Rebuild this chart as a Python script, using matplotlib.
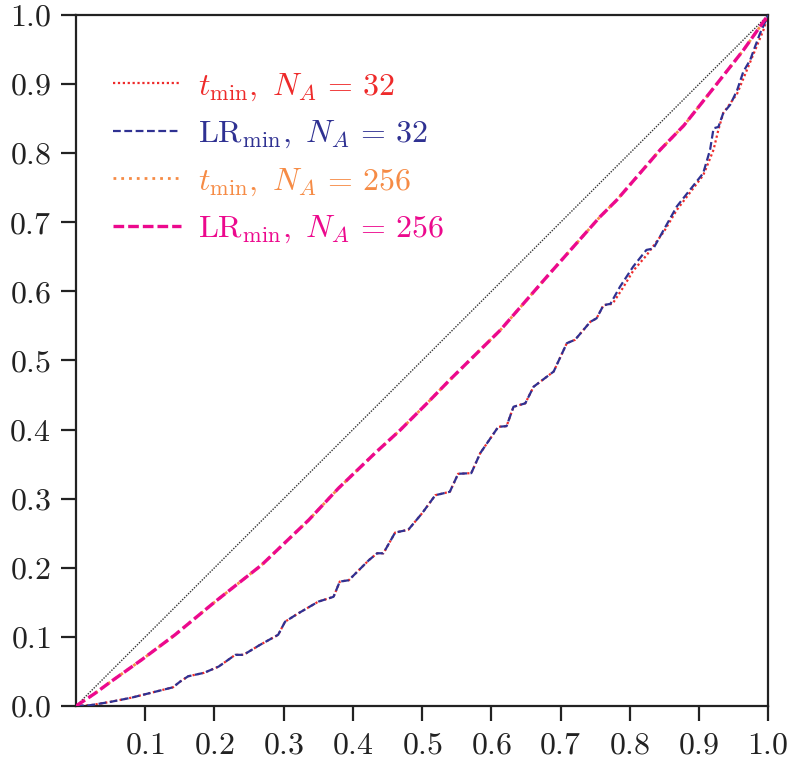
import matplotlib
matplotlib.use("Agg")
import matplotlib.pyplot as plt
from matplotlib.ticker import FuncFormatter, FixedLocator

plt.rcParams['mathtext.fontset'] = 'cm'
plt.rcParams['font.family'] = ['serif']
plt.rcParams['font.serif'] = ['cmr10', 'DejaVu Serif']
plt.rcParams['axes.unicode_minus'] = False

# ---- data ----
x_lr32 = [0, 0.02, 0.05, 0.08, 0.10, 0.12, 0.14, 0.15, 0.162, 0.185, 0.206, 0.230, 0.242,
          0.265, 0.292, 0.302, 0.321, 0.350, 0.372, 0.381, 0.394, 0.423, 0.435, 0.444,
          0.461, 0.480, 0.500, 0.519, 0.540, 0.552, 0.571, 0.584, 0.610, 0.622, 0.632,
          0.649, 0.661, 0.690, 0.709, 0.721, 0.743, 0.752, 0.762, 0.772, 0.786, 0.805,
          0.824, 0.834, 0.849, 0.868, 0.887, 0.906, 0.916, 0.921, 0.928, 0.935, 0.945,
          0.955, 0.964, 0.974, 0.979, 0.988, 1.0]
y_lr32 = [0, 0.001, 0.006, 0.012, 0.017, 0.022, 0.027, 0.035, 0.043, 0.048, 0.057, 0.074, 0.074,
          0.088, 0.103, 0.122, 0.134, 0.151, 0.158, 0.180, 0.182, 0.211, 0.221, 0.221,
          0.251, 0.255, 0.279, 0.305, 0.310, 0.336, 0.337, 0.366, 0.404, 0.405, 0.433,
          0.438, 0.462, 0.484, 0.525, 0.530, 0.556, 0.561, 0.580, 0.582, 0.607, 0.636,
          0.660, 0.662, 0.689, 0.723, 0.747, 0.771, 0.805, 0.836, 0.838, 0.858, 0.870,
          0.891, 0.918, 0.935, 0.949, 0.973, 1.0]

x_t32 = [0, 0.02, 0.05, 0.08, 0.10, 0.12, 0.14, 0.15, 0.162, 0.185, 0.206, 0.230, 0.242,
         0.265, 0.292, 0.302, 0.321, 0.350, 0.372, 0.381, 0.394, 0.423, 0.435, 0.444,
         0.461, 0.480, 0.500, 0.519, 0.540, 0.552, 0.571, 0.584, 0.610, 0.622, 0.632,
         0.649, 0.661, 0.690, 0.709, 0.721, 0.743, 0.752, 0.762, 0.775, 0.790, 0.805,
         0.824, 0.849, 0.868, 0.887, 0.906, 0.911, 0.921, 0.928, 0.935, 0.955, 0.969,
         0.981, 0.993, 1.0]
y_t32 = [0, 0.001, 0.006, 0.012, 0.017, 0.022, 0.027, 0.035, 0.043, 0.048, 0.057, 0.074, 0.074,
         0.088, 0.103, 0.122, 0.134, 0.151, 0.158, 0.180, 0.182, 0.211, 0.221, 0.221,
         0.251, 0.255, 0.279, 0.305, 0.310, 0.336, 0.337, 0.366, 0.404, 0.405, 0.433,
         0.438, 0.462, 0.484, 0.525, 0.530, 0.556, 0.561, 0.580, 0.582, 0.605, 0.630,
         0.652, 0.686, 0.718, 0.743, 0.768, 0.780, 0.805, 0.834, 0.858, 0.886, 0.920,
         0.949, 0.978, 1.0]

x_256 = [0, 0.027, 0.05, 0.095, 0.143, 0.201, 0.268, 0.336, 0.379, 0.432, 0.468, 0.507,
         0.540, 0.613, 0.680, 0.757, 0.781, 0.844, 0.878, 0.920, 0.964, 1.0]
y_lr256 = [0, 0.018, 0.035, 0.067, 0.103, 0.151, 0.204, 0.269, 0.315, 0.366, 0.399, 0.438,
           0.472, 0.544, 0.621, 0.708, 0.732, 0.805, 0.840, 0.893, 0.949, 1.0]
y_t256 = [0, 0.018, 0.035, 0.067, 0.103, 0.151, 0.204, 0.269, 0.315, 0.366, 0.399, 0.438,
          0.472, 0.544, 0.621, 0.708, 0.732, 0.805, 0.840, 0.893, 0.949, 1.0]

diag = [0, 1]

x_ticks = [0.1, 0.2, 0.3, 0.4, 0.5, 0.6, 0.7, 0.8, 0.9, 1.0]
y_ticks = [0.0, 0.1, 0.2, 0.3, 0.4, 0.5, 0.6, 0.7, 0.8, 0.9, 1.0]

labels = [r'$t_{\mathrm{min}},\ N_A\,=\,32$',
          r'$\mathrm{LR}_{\mathrm{min}},\ N_A\,=\,32$',
          r'$t_{\mathrm{min}},\ N_A\,=\,256$',
          r'$\mathrm{LR}_{\mathrm{min}},\ N_A\,=\,256$']
colors = ['#ee2a2a', '#2f3192', '#f68b45', '#ec098d']

# ---- plot ----
fig = plt.figure(figsize=(7.92, 7.61), dpi=100)
ax = fig.add_axes([0.096, 0.0723, 0.874, 0.908])

ax.plot(diag, diag, color='#333333', lw=1.0, ls=(0, (1, 1)), zorder=1)
l1, = ax.plot(x_t32, y_t32, color=colors[0], lw=1.6, ls=(0, (1, 1.2)), zorder=2, label=labels[0])
l2, = ax.plot(x_lr32, y_lr32, color=colors[1], lw=1.6, ls=(0, (3.5, 1.6)), zorder=3, label=labels[1])
l3, = ax.plot(x_256, y_t256, color=colors[2], lw=2.0, ls=(0, (1, 1.8)), zorder=2, label=labels[2])
l4, = ax.plot(x_256, y_lr256, color=colors[3], lw=2.4, ls=(0, (3.2, 1.2)), zorder=3, label=labels[3])

ax.set_xlim(0, 1)
ax.set_ylim(0, 1)
ax.xaxis.set_major_locator(FixedLocator(x_ticks))
ax.yaxis.set_major_locator(FixedLocator(y_ticks))
fmt = FuncFormatter(lambda v, p: r'$%.1f$' % v)
ax.xaxis.set_major_formatter(fmt)
ax.yaxis.set_major_formatter(fmt)
ax.tick_params(axis='both', which='major', direction='out', length=11, width=1.6,
               labelsize=23, color='#222222', labelcolor='#222222')
ax.tick_params(axis='x', pad=8)
ax.tick_params(axis='y', pad=7)
for s in ax.spines.values():
    s.set_linewidth(1.6)
    s.set_color('#222222')

leg = ax.legend(handles=[l1, l2, l3, l4], loc='upper left', bbox_to_anchor=(0.035, 0.937),
                frameon=False, fontsize=23, handlelength=2.13, handletextpad=0.53,
                labelspacing=0.5, borderaxespad=0.0)
for t, c in zip(leg.get_texts(), colors):
    t.set_color(c)

fig.savefig('out.png', dpi=100)
